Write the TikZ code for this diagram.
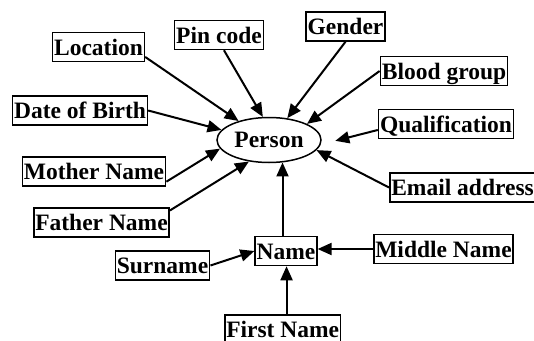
\documentclass[tikz,border=0pt]{standalone}
\usepackage{fontspec}
\setmainfont{Liberation Serif}
\usetikzlibrary{arrows.meta}
\tikzset{
  attr/.style={draw, line width=1.5pt, rectangle, inner xsep=1.5pt, inner ysep=1.5pt,
    text height=21pt, text depth=5pt, font=\fontsize{23.5}{27}\selectfont\bfseries},
  ent/.style={draw, line width=1.5pt, ellipse, minimum width=104pt, minimum height=45pt, inner sep=0pt,
    font=\fontsize{23.5}{27}\selectfont\bfseries},
  conn/.style={line width=2pt, -{Triangle[length=14pt,width=12pt]}}
}
\usetikzlibrary{shapes.geometric}
\begin{document}
\begin{tikzpicture}[x=1pt,y=-1pt]
\useasboundingbox (0,0) rectangle (534,340);
\clip (0,0) rectangle (534,340);
\node[ent] (person) at (269,140) {Person};
\node[attr] (loc) at (98.5,47) {Location};
\node[attr] (pin) at (219,35) {Pin code};
\node[attr] (gender) at (345.5,26.5) {Gender};
\node[attr] (blood) at (444,71) {Blood group};
\node[attr] (qual) at (446,124) {Qualification};
\node[attr] (dob) at (80,110.5) {Date of Birth};
\node[attr] (mother) at (94,171.5) {Mother Name};
\node[attr] (father) at (101.5,222.5) {Father Name};
\node[attr, anchor=west] (email) at (389,187.5) {Email address};
\node[attr] (name) at (286,251) {Name};
\node[attr] (surname) at (162.5,265.5) {Surname};
\node[attr] (middle) at (443.5,249) {Middle Name};
\node[attr, anchor=north west] (first) at (224,314) {First Name};

\draw[conn] (loc.-12) -- (person.148);
\draw[conn] (pin.-72) -- (person.105);
\draw[conn] (gender.south) -- (person.50);
\draw[conn] (blood.west) -- (person.23);
\draw[conn, shorten >=15pt] (qual.185) -- (person.-5);
\draw[conn] (email.west) -- (person.-12);
\draw[conn] (dob.east) -- (person.168);
\draw[conn] (mother.-8) -- (person.190);
\draw[conn] (father.10) -- (person.227);
\draw[conn] (name.north -| person.-59) -- (person.-59);
\draw[conn] (surname.east) -- (name.west);
\draw[conn] (middle.west) -- (middle.west -| name.east);
\draw[conn] (first.north -| name.-88) -- (name.south -| name.-88);
\end{tikzpicture}
\end{document}
